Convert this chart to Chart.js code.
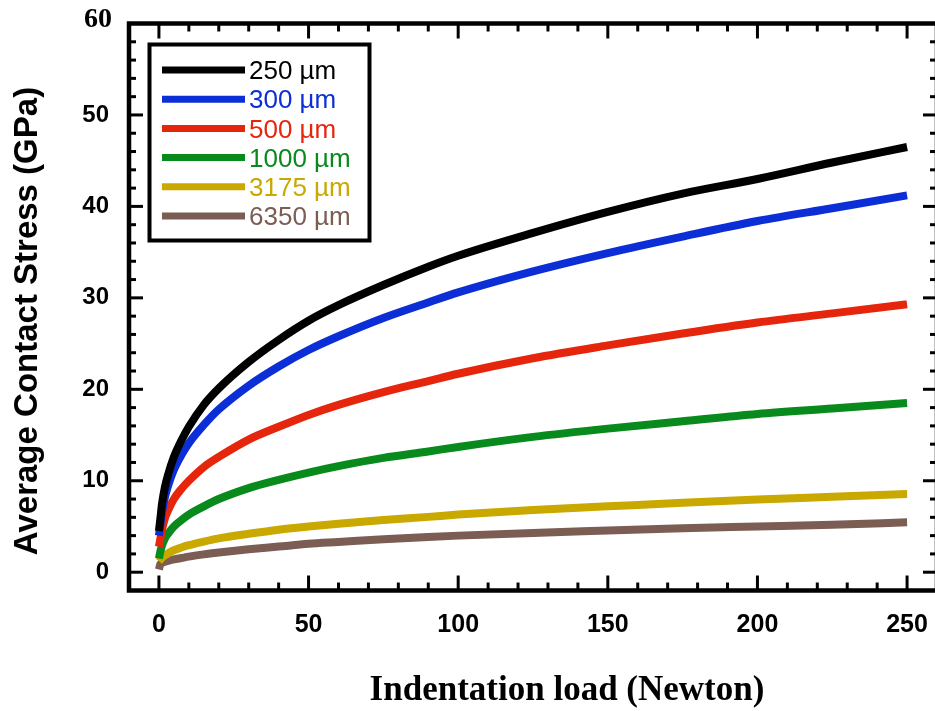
<!DOCTYPE html>
<html><head><meta charset="utf-8">
<script src="https://cdn.jsdelivr.net/npm/chart.js@4.4.1/dist/chart.umd.min.js"></script>
<style>
html,body{margin:0;padding:0;background:#fff;overflow:hidden;width:935px;height:711px}
#wrap{position:absolute;left:0;top:0;width:940px;height:711px}
</style>
</head><body><div id="wrap"><canvas id="c" width="940" height="711"></canvas></div>
<script>
// ---- data ----
const loadN   = [0, 0.5, 1, 2, 3, 5, 7.5, 10, 15, 20, 30, 40, 50, 60, 75, 90, 100, 125, 150, 175, 200, 225, 250];
const s250um  = [4.5, 5.9, 7.4, 9.3, 10.6, 12.6, 14.4, 15.9, 18.3, 20.1, 23.0, 25.4, 27.5, 29.2, 31.4, 33.4, 34.6, 37.1, 39.4, 41.4, 43.0, 44.8, 46.5];
const s300um  = [4.0, 5.2, 6.5, 8.2, 9.4, 11.2, 12.8, 14.1, 16.1, 17.8, 20.4, 22.5, 24.3, 25.8, 27.8, 29.5, 30.6, 32.9, 34.9, 36.7, 38.4, 39.8, 41.2];
const s500um  = [2.8, 3.7, 4.6, 5.9, 6.7, 8.0, 9.1, 10.0, 11.5, 12.6, 14.5, 15.9, 17.2, 18.3, 19.7, 20.9, 21.7, 23.4, 24.8, 26.1, 27.3, 28.3, 29.3];
const s1000um = [1.5, 2.3, 2.9, 3.7, 4.2, 5.0, 5.7, 6.3, 7.2, 8.0, 9.2, 10.1, 10.9, 11.6, 12.5, 13.2, 13.7, 14.8, 15.7, 16.5, 17.3, 17.9, 18.5];
const s3175um = [1.2, 1.4, 1.6, 1.85, 2.05, 2.4, 2.7, 2.95, 3.35, 3.7, 4.2, 4.65, 5.0, 5.3, 5.7, 6.05, 6.3, 6.8, 7.2, 7.6, 7.95, 8.25, 8.55];
const s6350um = [0.3, 0.9, 1.0, 1.15, 1.25, 1.4, 1.55, 1.7, 1.95, 2.15, 2.5, 2.8, 3.1, 3.3, 3.6, 3.85, 4.0, 4.3, 4.55, 4.8, 5.0, 5.2, 5.45];
const seriesLabels = ['250 µm', '300 µm', '500 µm', '1000 µm', '3175 µm', '6350 µm'];
const seriesValues = [s250um, s300um, s500um, s1000um, s3175um, s6350um];
const seriesColors = ['#000000', '#0c2ed6', '#e6260c', '#088a1c', '#c9a800', '#7b5d54'];
const xTickValues = [0, 50, 100, 150, 200, 250];
const yTickValues = [0, 10, 20, 30, 40, 50, 60];
const xTitle = 'Indentation load (Newton)';
const yTitle = 'Average Contact Stress (GPa)';

const datasets = seriesValues.map((vals, i) => ({
  label: seriesLabels[i],
  data: loadN.map((x, j) => ({x: x, y: vals[j]})),
  borderColor: seriesColors[i],
  backgroundColor: seriesColors[i],
  borderWidth: 8,
  pointRadius: 0,
  fill: false,
  cubicInterpolationMode: 'monotone',
  borderCapStyle: 'butt'
}));

function seg(ctx, x1, y1, x2, y2) { ctx.beginPath(); ctx.moveTo(x1, y1); ctx.lineTo(x2, y2); ctx.stroke(); }
function zeroPad(s) { s.paddingTop = 0; s.paddingBottom = 0; s.paddingLeft = 0; s.paddingRight = 0; }

const topY = yTickValues[yTickValues.length - 1];

const framePlugin = {
  id: 'frame',
  afterDraw(chart) {
    const ctx = chart.ctx, a = chart.chartArea, xs = chart.scales.x, ys = chart.scales.y;
    ctx.save();
    ctx.strokeStyle = '#000'; ctx.lineCap = 'butt'; ctx.lineWidth = 3;
    for (let v = 0; v <= 250; v += 10) {
      const p = xs.getPixelForValue(v), L = (v % 50 === 0) ? 15 : 8;
      seg(ctx, p, a.bottom, p, a.bottom - L);
      seg(ctx, p, a.top, p, a.top + L);
    }
    for (let v = 0; v <= 60; v += 2) {
      const p = ys.getPixelForValue(v), L = (v % 10 === 0) ? 14 : 7;
      seg(ctx, a.left, p, a.left + L, p);
      seg(ctx, a.right, p, a.right - L, p);
    }
    ctx.lineWidth = 4.5;
    ctx.strokeRect(a.left, a.top, a.right - a.left, a.bottom - a.top);

    // top y tick label (serif in the original)
    ctx.fillStyle = '#000';
    ctx.font = 'bold 28px "Liberation Serif", "Times New Roman", serif';
    ctx.textAlign = 'right'; ctx.textBaseline = 'middle';
    ctx.fillText(String(topY), a.left - 17, ys.getPixelForValue(topY) - 4);

    // legend
    const bx = 149.5, by = 44.5, bw = 220, bh = 196;
    ctx.fillStyle = '#fff'; ctx.fillRect(bx, by, bw, bh);
    ctx.lineWidth = 4; ctx.strokeStyle = '#000'; ctx.strokeRect(bx, by, bw, bh);
    ctx.font = '26px "Liberation Sans", Arial, sans-serif';
    ctx.textAlign = 'left'; ctx.textBaseline = 'middle';
    chart.data.datasets.forEach((ds, i) => {
      const yy = 70 + i * 29.2;
      ctx.strokeStyle = ds.borderColor; ctx.lineWidth = 7;
      seg(ctx, 162, yy, 245, yy);
      ctx.fillStyle = ds.borderColor;
      ctx.fillText(ds.label, 249, yy + 2);
    });

    // axis titles
    ctx.fillStyle = '#000';
    ctx.font = 'bold 35px "Liberation Serif", "Times New Roman", serif';
    ctx.textAlign = 'center'; ctx.textBaseline = 'alphabetic';
    ctx.fillText(xTitle, 567, 700);
    ctx.save();
    ctx.translate(37, 321); ctx.rotate(-Math.PI / 2);
    ctx.font = 'bold 33px "Liberation Sans", Arial, sans-serif';
    ctx.fillText(yTitle, 0, 0);
    ctx.restore();
    ctx.restore();
  }
};

new Chart(document.getElementById('c'), {
  type: 'line',
  data: { datasets: datasets },
  options: {
    responsive: false, devicePixelRatio: 1, animation: false,
    layout: { autoPadding: false, padding: { left: 0, top: 23.5, right: 3, bottom: 0 } },
    plugins: { legend: { display: false }, tooltip: { enabled: false } },
    scales: {
      x: {
        type: 'linear', min: -10, max: 260,
        afterBuildTicks: s => { s.ticks = xTickValues.map(v => ({value: v})); },
        afterFit: s => { s.height = 120.5; zeroPad(s); },
        grid: { display: false, drawTicks: false, tickLength: 0 },
        border: { display: false },
        ticks: { autoSkip: false, maxRotation: 0, padding: 20, color: '#000',
                 font: { family: '"Liberation Sans", Arial, sans-serif', size: 25, weight: 'bold' } }
      },
      y: {
        type: 'linear', min: -2, max: 60,
        afterBuildTicks: s => { s.ticks = yTickValues.map(v => ({value: v})); },
        afterFit: s => { s.width = 129; zeroPad(s); },
        grid: { display: false, drawTicks: false, tickLength: 0 },
        border: { display: false },
        ticks: { autoSkip: false, padding: 20, color: '#000',
                 callback: v => (v === topY ? '' : String(v)),
                 font: { family: '"Liberation Sans", Arial, sans-serif', size: 24, weight: 'bold' } }
      }
    }
  },
  plugins: [framePlugin]
});
</script>
</body></html>
